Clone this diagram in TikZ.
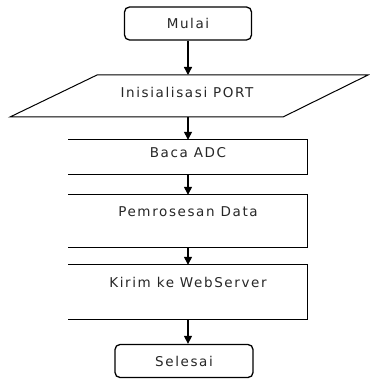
\documentclass[tikz,border=0pt]{standalone}
\usepackage{fontspec}
\setmainfont{DejaVu Sans}[LetterSpace=12]
\usetikzlibrary{arrows.meta}
\begin{document}
\begin{tikzpicture}[x=1pt,y=-1pt,
  line/.style={draw=black,line width=1.3pt},
  txt/.style={font=\fontsize{13.5}{15}\selectfont,text=black!85},
  term/.style={line,txt,rounded corners=5pt,minimum height=33pt,inner sep=0pt},
  procbox/.style={minimum width=239pt,inner sep=0pt},
  lbl/.style={txt,inner sep=0pt},
  arr/.style={draw=black,line width=1.3pt,-{Triangle[length=8pt,width=8pt]}}]
\useasboundingbox (0,0) rectangle (369,379);
% start
\node[term,minimum width=127pt] (mulai) at (188,23.5) {Mulai};
% parallelogram
\coordinate (ptl) at (97,75);
\coordinate (ptr) at (368,75);
\coordinate (pbr) at (283,117);
\coordinate (pbl) at (10,117);
\coordinate (ptop) at (188,75);
\coordinate (pbot) at (188,117);
\draw[line,line width=1pt] (ptl) -- (ptr) -- (pbr) -- (pbl) -- cycle;
\node[lbl] (init) at (187,92) {Inisialisasi PORT};
% process boxes (three sides)
\node[procbox,minimum height=34pt] (baca) at (188,157) {};
\node[lbl] (tbaca) at ([yshift=-13pt]baca.north) {Baca ADC};
\node[procbox,minimum height=52pt] (proses) at (188,221) {};
\node[lbl] (tproses) at ([yshift=-17pt]proses.north) {Pemrosesan Data};
\node[procbox,minimum height=54pt] (kirim) at (188,292) {};
\node[lbl] (tkirim) at ([yshift=-18pt]kirim.north) {Kirim ke WebServer};
\foreach \b in {baca,proses,kirim}{
  \draw[line] (\b.north west) -- (\b.north east) -- (\b.south east) -- (\b.south west);
}
% end
\node[term,minimum width=138pt] (selesai) at (184,361) {Selesai};
% arrows
\draw[arr] (mulai.south) -- (ptop);
\draw[arr] (pbot) -- (baca.north);
\draw[arr] (baca.south) -- (proses.north);
\draw[arr] (proses.south) -- (kirim.north);
\draw[arr] (kirim.south) -- (selesai.north -| kirim.south);
\end{tikzpicture}
\end{document}
